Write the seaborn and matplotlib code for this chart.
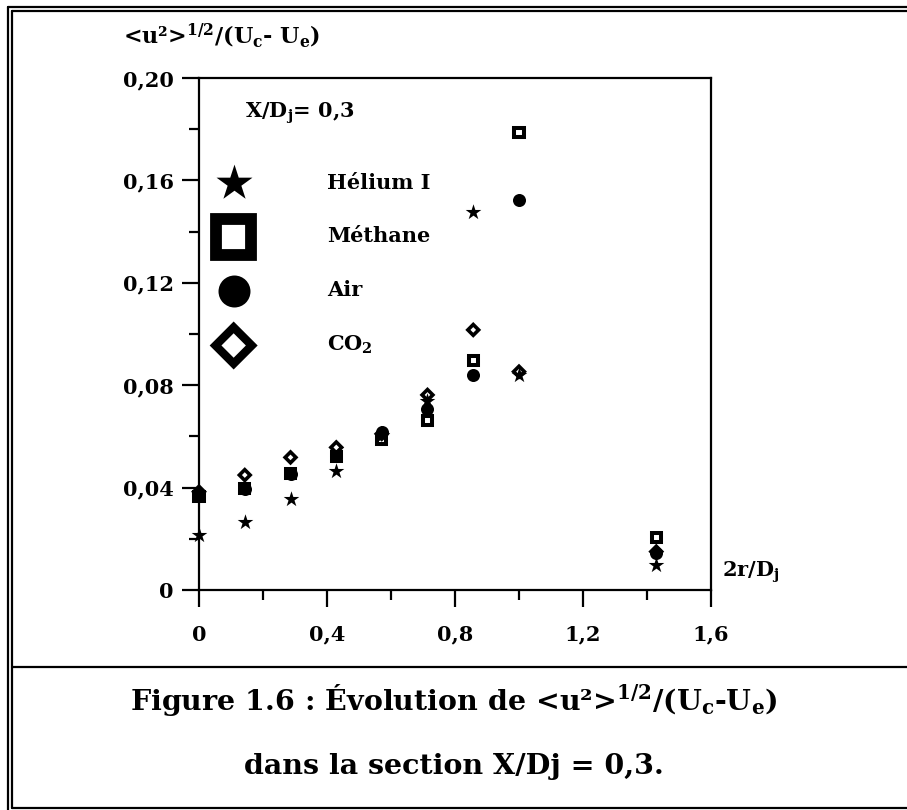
import numpy as np
import pandas as pd
import matplotlib
matplotlib.use("Agg")
import matplotlib.pyplot as plt
from matplotlib.lines import Line2D
from matplotlib.ticker import MultipleLocator, FixedLocator
import seaborn as sns

sns.set_style("ticks")
plt.rcParams['font.family'] = ['DejaVu Serif']
plt.rcParams['font.weight'] = 'bold'
plt.rcParams['mathtext.fontset'] = 'dejavuserif'
plt.rcParams['mathtext.default'] = 'bf'
plt.rcParams['text.color'] = 'black'
plt.rcParams['xtick.color'] = 'black'
plt.rcParams['ytick.color'] = 'black'

# data (2r/Dj positions and <u'^2>^1/2/(Uc-Ue))
r_pos = [0, 0.143, 0.286, 0.429, 0.571, 0.714, 0.857, 1.0, 1.429]
helium = [0.0215, 0.0264, 0.0354, 0.0466, 0.0605, 0.0740, 0.1478, 0.0840, 0.0098]
methane = [0.0365, 0.0395, 0.0456, 0.0520, 0.0586, 0.0661, 0.0898, 0.1786, 0.0204]
air = [0.0370, 0.0395, 0.0455, 0.0525, 0.0618, 0.0706, 0.0840, 0.1523, 0.0143]
co2 = [0.0384, 0.0449, 0.0518, 0.0557, 0.0610, 0.0762, 0.1016, 0.0853, 0.0150]

gas_labels = ['Hélium I', 'Méthane', 'Air', 'CO$_{2}$']
x_ticks = [0, 0.4, 0.8, 1.2, 1.6]
x_tick_labels = ['0', '0,4', '0,8', '1,2', '1,6']
y_ticks = [0, 0.04, 0.08, 0.12, 0.16, 0.20]
y_tick_labels = ['0', '0,04', '0,08', '0,12', '0,16', '0,20']

W, H = 907, 810
fig = plt.figure(figsize=(W / 100, H / 100), dpi=100)
ax = fig.add_axes([199 / W, 1 - 590 / H, 512 / W, 512 / H])

styles = [
    dict(marker='*', s=140, facecolor='black', linewidth=0),
    dict(marker='s', s=42, facecolor='none', linewidth=2.9),
    dict(marker='o', s=88, facecolor='black', linewidth=0),
    dict(marker='D', s=30, facecolor='none', linewidth=2.6),
]
series = [helium, methane, air, co2]

for vals, lab, st in zip(series, gas_labels, styles):
    sns.scatterplot(x=r_pos, y=vals, ax=ax, label=lab, edgecolor='black',
                    zorder=3, clip_on=False, **st)
for coll in ax.collections:
    coll.set_joinstyle('miter')

ax.set_xlim(0, 1.6)
ax.set_ylim(0, 0.20)
ax.xaxis.set_major_locator(FixedLocator(x_ticks))
ax.set_xticklabels(x_tick_labels)
ax.yaxis.set_major_locator(FixedLocator(y_ticks))
ax.set_yticklabels(y_tick_labels)
ax.xaxis.set_minor_locator(MultipleLocator(0.2))
ax.yaxis.set_minor_locator(MultipleLocator(0.02))
ax.tick_params(which='major', direction='out', length=12, width=1.6,
               labelsize=15, colors='black')
ax.tick_params(axis='x', which='major', pad=13)
ax.tick_params(axis='y', which='major', pad=6)
ax.tick_params(which='minor', direction='out', length=7, width=1.6)
for sp in ax.spines.values():
    sp.set_linewidth(1.6)
    sp.set_color('black')
ax.set_xlabel('')
ax.set_ylabel('')

leg = ax.legend(loc='upper left', bbox_to_anchor=(0.027, 0.815), frameon=False,
                fontsize=15, handlelength=2.0,
                handletextpad=3.5, labelspacing=1.62, borderpad=0,
                borderaxespad=0, scatterpoints=1)
# legend symbols are much larger than the plotted points
leg_sizes = [740, 640, 530, 340]
leg_widths = [0, 8.5, 0, 6.0]
for h, sz, lw in zip(leg.legend_handles, leg_sizes, leg_widths):
    h.set_sizes([sz])
    h.set_linewidths([lw])
    h.set_joinstyle('miter')

ax.text(0.09, 0.932, 'X/D$_{j}$= 0,3', transform=ax.transAxes,
        fontsize=15, va='center', ha='left')
ax.text(1.022, 0.035, '2r/D$_{j}$', transform=ax.transAxes,
        fontsize=15, va='center', ha='left')

fig.text(123 / W, 1 - 36 / H, '<u²>$^{1/2}$/(U$_{c}$- U$_{e}$)',
         fontsize=16, va='center', ha='left')

# caption
fig.text(0.5, 1 - 700 / H, 'Figure 1.6 : Évolution de <u²>$^{1/2}$/(U$_{c}$-U$_{e}$)',
         fontsize=20.5, va='center', ha='center')
fig.text(0.5, 1 - 767 / H, 'dans la section X/Dj = 0,3.',
         fontsize=20.5, va='center', ha='center')

# page frame (double border and separator)
def hline(y, x0, x1):
    fig.add_artist(Line2D([x0 / W, x1 / W], [1 - y / H, 1 - y / H],
                          color='black', linewidth=1.6))

def vline(x, y0, y1):
    fig.add_artist(Line2D([x / W, x / W], [1 - y0 / H, 1 - y1 / H],
                          color='black', linewidth=1.6))

vline(8, 7, 810)
hline(7, 8, 907)
vline(12, 11, 808)
hline(11, 12, 907)
hline(808, 12, 907)
hline(667, 12, 907)

fig.savefig('out.png', dpi=100)
